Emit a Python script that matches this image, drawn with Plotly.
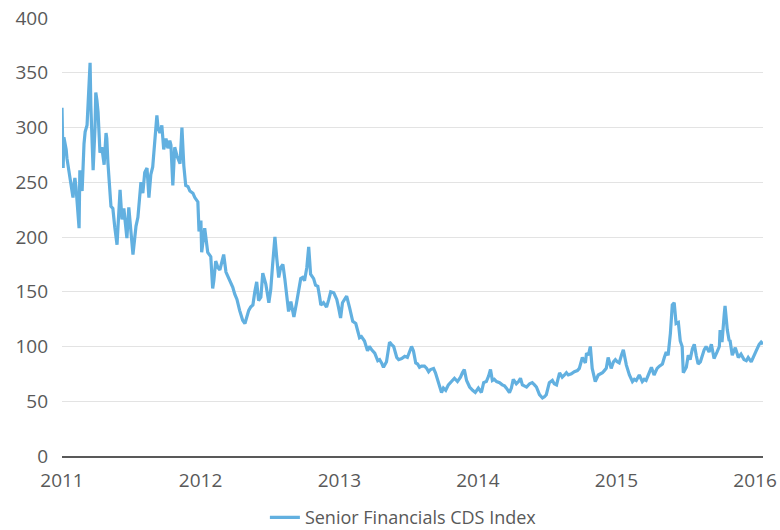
import pandas as pd
import plotly.graph_objects as go

# Days since 2011-01-01 and index level (bp)
days_from_start = [
    0, 3, 5, 11, 13, 21, 29, 32, 34, 37, 45, 47, 50, 53, 58, 61, 66, 68, 71, 74,
    76, 82, 87, 89, 92, 95, 100, 105, 111, 116, 118, 121, 129, 134, 139, 145, 153, 158, 163, 171,
    176, 182, 187, 195, 200, 208, 213, 218, 224, 229, 234, 239, 245, 250, 253, 258, 263, 268, 274, 279,
    284, 287, 292, 297, 303, 311, 316, 321, 326, 332, 337, 345, 350, 358, 361, 366, 368, 376, 384, 392,
    397, 400, 405, 411, 416, 421, 426, 432, 437, 442, 450, 455, 461, 468, 476, 482, 487, 492, 497, 503,
    508, 513, 518, 524, 529, 537, 545, 550, 555, 561, 566, 571, 576, 582, 587, 592, 597, 603, 611, 618,
    624, 629, 634, 639, 645, 650, 655, 663, 668, 674, 679, 682, 689, 697, 703, 708, 716, 724, 729, 734,
    739, 745, 750, 758, 766, 774, 779, 784, 789, 797, 805, 810, 816, 824, 832, 837, 842, 847, 855, 861,
    863, 868, 874, 882, 887, 895, 903, 910, 916, 921, 926, 932, 937, 942, 947, 955, 961, 966, 971, 979,
    984, 987, 995, 1000, 1005, 1011, 1018, 1026, 1034, 1042, 1050, 1055, 1060, 1066, 1074, 1082, 1089, 1097, 1105, 1111,
    1118, 1124, 1129, 1134, 1139, 1145, 1153, 1160, 1166, 1171, 1179, 1184, 1189, 1197, 1203, 1208, 1213, 1218, 1224, 1232,
    1239, 1245, 1250, 1258, 1266, 1271, 1276, 1284, 1292, 1297, 1303, 1311, 1318, 1324, 1329, 1334, 1342, 1350, 1358, 1363,
    1371, 1379, 1382, 1387, 1392, 1397, 1405, 1413, 1418, 1424, 1429, 1434, 1439, 1447, 1453, 1458, 1463, 1468, 1474, 1479,
    1487, 1495, 1503, 1508, 1513, 1521, 1529, 1534, 1539, 1547, 1553, 1560, 1568, 1574, 1582, 1587, 1592, 1597, 1603, 1608,
    1613, 1618, 1624, 1629, 1634, 1637, 1645, 1650, 1655, 1661, 1666, 1671, 1676, 1682, 1687, 1692, 1697, 1705, 1711, 1718,
    1726, 1732, 1734, 1739, 1745, 1747, 1753, 1758, 1760, 1766, 1774, 1782, 1789, 1797, 1803, 1808, 1816, 1824, 1829, 1837,
    1842, 1847,
]

cds_index = [
    318, 263, 291, 280, 272, 255, 236, 249, 254, 245, 208, 261, 250, 242, 285, 296, 302, 321, 340, 359,
    320, 261, 300, 332, 325, 314, 277, 282, 266, 295, 290, 268, 228, 226, 209, 193, 243, 216, 226, 199,
    227, 205, 184, 210, 218, 250, 240, 259, 263, 236, 257, 264, 290, 311, 300, 295, 302, 280, 290, 281,
    288, 284, 247, 282, 274, 267, 300, 265, 247, 246, 242, 240, 236, 232, 205, 215, 186, 208, 186, 182,
    153, 160, 178, 172, 170, 178, 184, 168, 164, 159, 154, 148, 143, 133, 124, 121, 128, 133, 136, 138,
    150, 159, 142, 145, 167, 157, 140, 152, 175, 200, 180, 163, 172, 175, 162, 149, 132, 141, 127, 140,
    152, 162, 163, 160, 172, 191, 166, 162, 156, 155, 145, 138, 140, 136, 143, 150, 149, 143, 135, 126,
    140, 144, 146, 135, 123, 121, 115, 108, 109, 105, 96, 100, 97, 94, 87, 88, 85, 81, 86, 100,
    104, 102, 100, 90, 88, 89, 91, 90, 96, 100, 96, 85, 84, 81, 82, 82, 80, 77, 79, 80,
    76, 73, 64, 58, 62, 60, 65, 68, 71, 68, 72, 76, 79, 69, 63, 60, 58, 62, 58, 67,
    68, 73, 79, 69, 70, 68, 67, 65, 64, 62, 58, 62, 70, 66, 68, 71, 65, 64, 63, 66,
    67, 65, 63, 56, 53, 54, 56, 67, 69, 66, 65, 76, 72, 74, 76, 74, 75, 77, 78, 80,
    90, 85, 94, 92, 100, 80, 68, 74, 75, 76, 78, 80, 90, 80, 86, 88, 86, 85, 92, 97,
    83, 74, 68, 70, 69, 74, 68, 70, 69, 75, 81, 74, 80, 82, 84, 90, 95, 92, 112, 138,
    140, 121, 122, 105, 100, 76, 81, 92, 88, 98, 102, 92, 84, 86, 93, 97, 100, 95, 102, 89,
    95, 100, 115, 104, 130, 137, 115, 105, 106, 92, 99, 90, 93, 88, 87, 90, 86, 93, 96, 102,
    104, 102,
]

series_name = "Senior Financials CDS Index"
year_ticks = ["2011-01-01", "2012-01-01", "2013-01-01", "2014-01-01", "2015-01-01", "2016-01-01"]
year_labels = ["2011", "2012", "2013", "2014", "2015", "2016"]
y_ticks = [0, 50, 100, 150, 200, 250, 300, 350, 400]

dates = pd.Timestamp("2011-01-01") + pd.to_timedelta(days_from_start, unit="D")

text_color = "#595959"
font_family = "Open Sans, Noto Sans, DejaVu Sans, sans-serif"

fig = go.Figure()
fig.add_trace(go.Scatter(
    x=dates, y=cds_index, mode="lines", name=series_name,
    line=dict(color="#62b0e0", width=3.2),
    hoverinfo="skip",
))

fig.update_layout(
    width=780, height=530,
    margin=dict(l=62, r=17, t=18, b=74, autoexpand=False),
    paper_bgcolor="white", plot_bgcolor="white",
    font=dict(family=font_family, size=19, color=text_color),
    showlegend=True,
    legend=dict(
        orientation="h", x=0.487, xanchor="center", y=-0.141, yanchor="middle",
        font=dict(size=18, color=text_color), bgcolor="rgba(0,0,0,0)",
        itemwidth=30, tracegroupgap=0,
    ),
    xaxis=dict(
        type="date", automargin=False,
        range=[dates[0], dates[-1]],
        tickvals=year_ticks, ticktext=year_labels,
        showgrid=False, zeroline=False,
        showline=True, linecolor="#595959", linewidth=2,
        ticks="", ticklabelstandoff=6,
        tickfont=dict(size=19, color=text_color),
    ),
    yaxis=dict(
        range=[0, 400], tickvals=y_ticks, automargin=False,
        showgrid=True, gridcolor="#e3e3e3", gridwidth=1,
        zeroline=False, showline=False, ticks="",
        ticklabelstandoff=13,
        tickfont=dict(size=19, color=text_color),
    ),
)

fig.write_html("out.html", config={"displayModeBar": False})

# remove the browser's default page margin so the figure sits at the top-left corner
with open("out.html", "r", encoding="utf-8") as fh:
    html = fh.read()
html = html.replace("<body>", '<body style="margin:0;padding:0;">', 1)
with open("out.html", "w", encoding="utf-8") as fh:
    fh.write(html)
